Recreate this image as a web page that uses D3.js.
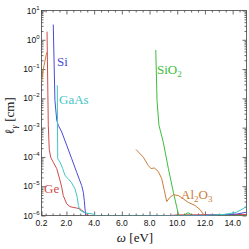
<!DOCTYPE html>
<html>
<head>
<meta charset="utf-8">
<script src="https://cdn.jsdelivr.net/npm/d3@7"></script>
<style>
  body { margin: 0; background: #fff; }
</style>
</head>
<body>
<div id="chart"></div>
<script>
// photon energy [eV] and absorption length [cm]
var geE   = [0.60, 0.69, 0.76, 0.86, 1.05, 1.30, 1.49, 1.66, 1.77, 2.02, 2.26, 2.98, 3.34, 3.70, 5.0, 9.0, 10.0, 15.0];
var geL   = [1.9, 1.2e-3, 1.8e-4, 9.8e-5, 6.6e-5, 4.0e-5, 1.9e-5, 9.3e-6, 4.8e-6, 2.5e-6, 2.0e-6, 1.7e-6, 1.23e-6, 9.3e-7, 9.0e-7, 9.5e-7, 1.05e-6, 1.08e-6];

var siE   = [1.05, 1.10, 1.17, 1.30, 1.41, 1.66, 2.02, 2.38, 2.74, 3.10, 3.22, 3.29, 3.34, 3.39, 3.5, 10.0, 13.0, 14.3, 15.0];
var siL   = [3.3, 0.26, 8.5e-3, 1.8e-3, 1.2e-3, 7.1e-4, 2.5e-4, 8.7e-5, 3.0e-5, 1.05e-5, 6.2e-6, 3.2e-6, 1.7e-6, 1.0e-6, 9.0e-7, 9.5e-7, 1.05e-6, 1.12e-6, 1.3e-6];

var gaasE = [1.34, 1.37, 1.54, 1.73, 1.90, 2.13, 2.38, 2.62, 2.78, 2.86, 2.98, 3.34, 3.94, 4.19, 6.0, 12.0, 13.5, 14.3, 15.0];
var gaasL = [2.8e-2, 8.7e-5, 6.6e-5, 4.0e-5, 2.3e-5, 1.8e-5, 1.3e-5, 8.1e-6, 4.2e-6, 2.2e-6, 1.5e-6, 1.23e-6, 1.12e-6, 9.5e-7, 9.5e-7, 1.0e-6, 1.1e-6, 1.3e-6, 2.0e-6];

var sio2E = [8.45, 8.54, 8.68, 8.99, 9.36, 9.72, 10.08, 10.16, 10.49, 10.63, 10.80, 10.92, 11.07, 15.0];
var sio2L = [0.45, 8.5e-3, 1.2e-3, 3.2e-4, 4.0e-5, 6.2e-6, 1.12e-6, 9.1e-7, 9.1e-7, 1.17e-6, 1.23e-6, 1.17e-6, 9.1e-7, 9.8e-7];

// null marks the gap between the low and high energy parts
var al2o3E = [0.2, 0.31, 0.575, null, 7.02, 7.55, 7.91, 8.11, 8.34, 8.63, 8.88, 9.07, 9.24, 9.48, 9.72, 10.08, 10.44, 10.80, 11.28, 11.64, 11.88, 12.0];
var al2o3L = [3.5e-2, 9.1e-2, 0.37, null, 1.8e-4, 9.8e-5, 5.1e-5, 4.0e-5, 4.2e-5, 3.2e-5, 1.8e-5, 7.1e-6, 3.0e-6, 4.2e-6, 5.1e-6, 4.8e-6, 3.7e-6, 2.8e-6, 2.2e-6, 1.6e-6, 1.12e-6, 9.5e-7];

var xTicks = [0.2, 2, 4, 6, 8, 10, 12, 14];
var xTickLabels = ["0.2", "2.0", "4.0", "6.0", "8.0", "10.0", "12.0", "14.0"];
var yExps = [1, 0, -1, -2, -3, -4, -5, -6];

var margin = { top: 10.5, right: 2.5, bottom: 33.5, left: 41.5 },
    width = 249 - margin.left - margin.right,
    height = 249 - margin.top - margin.bottom;

var svg = d3.select("#chart")
    .append("svg")
    .attr("width", 249)
    .attr("height", 249)
    .append("g")
    .attr("transform", "translate(" + margin.left + "," + margin.top + ")");

var x = d3.scaleLinear().domain([0.2, 15]).range([0, width]);
var y = d3.scaleLog().domain([1e-6, 10]).range([height, 0]);

var axisColor = "#444";

svg.append("clipPath").attr("id", "clip")
    .append("rect").attr("width", width).attr("height", height);

// minor ticks
var xMinor = d3.range(0.5, 15, 0.5).filter(function (v) { return v % 2 != 0; });
var yMinor = [];
for (var e = -6; e < 1; e++) {
    for (var m = 2; m <= 9; m++) yMinor.push(m * Math.pow(10, e));
}

function styleAxis(g) {
    g.select(".domain").remove();
    g.selectAll("line").attr("stroke", axisColor).attr("stroke-width", 0.8);
}

// bottom and top
svg.append("g").attr("transform", "translate(0," + height + ")")
    .call(d3.axisBottom(x).tickValues(xTicks).tickSize(-4).tickFormat(""))
    .call(styleAxis);
svg.append("g").attr("transform", "translate(0," + height + ")")
    .call(d3.axisBottom(x).tickValues(xMinor).tickSize(-2).tickFormat(""))
    .call(styleAxis);
svg.append("g")
    .call(d3.axisTop(x).tickValues(xTicks).tickSize(-4).tickFormat(""))
    .call(styleAxis);
svg.append("g")
    .call(d3.axisTop(x).tickValues(xMinor).tickSize(-2).tickFormat(""))
    .call(styleAxis);

// left and right
var yMajor = yExps.map(function (p) { return Math.pow(10, p); });
svg.append("g")
    .call(d3.axisLeft(y).tickValues(yMajor).tickSize(-4).tickFormat(""))
    .call(styleAxis);
svg.append("g")
    .call(d3.axisLeft(y).tickValues(yMinor).tickSize(-2).tickFormat(""))
    .call(styleAxis);
svg.append("g").attr("transform", "translate(" + width + ",0)")
    .call(d3.axisRight(y).tickValues(yMajor).tickSize(-4).tickFormat(""))
    .call(styleAxis);
svg.append("g").attr("transform", "translate(" + width + ",0)")
    .call(d3.axisRight(y).tickValues(yMinor).tickSize(-2).tickFormat(""))
    .call(styleAxis);

svg.append("rect")
    .attr("width", width).attr("height", height)
    .attr("fill", "none").attr("stroke", axisColor).attr("stroke-width", 0.8);

// tick labels
svg.selectAll(".xlab")
    .data(xTicks)
    .enter()
    .append("text")
    .attr("x", function (d) { return x(d); })
    .attr("y", height + 10)
    .attr("text-anchor", "middle")
    .style("font-family", "Liberation Sans, Arial, sans-serif")
    .style("font-size", "8.5px")
    .attr("fill", "#111")
    .text(function (d, i) { return xTickLabels[i]; });

var ylab = svg.selectAll(".ylab")
    .data(yExps)
    .enter()
    .append("text")
    .attr("x", -2)
    .attr("y", function (d) { return y(Math.pow(10, d)) + 3; })
    .attr("text-anchor", "end")
    .style("font-family", "Liberation Sans, Arial, sans-serif")
    .style("font-size", "8.5px")
    .attr("fill", "#111");
ylab.append("tspan").text("10");
ylab.append("tspan")
    .attr("dy", -4)
    .style("font-size", "6px")
    .text(function (d) { return d < 0 ? "\u2212" + (-d) : "" + d; });

// curves
var line = d3.line()
    .defined(function (d) { return d[0] != null && d[1] != null; })
    .x(function (d) { return x(d[0]); })
    .y(function (d) { return y(d[1]); });

var series = [
    { name: "Ge",    e: geE,    l: geL,    color: "#cf4a4a" },
    { name: "Si",    e: siE,    l: siL,    color: "#4b4bd3" },
    { name: "GaAs",  e: gaasE,  l: gaasL,  color: "#3fc6c6" },
    { name: "SiO2",  e: sio2E,  l: sio2L,  color: "#3dbd3d" },
    { name: "Al2O3", e: al2o3E, l: al2o3L, color: "#c97d3a" }
];

var curves = svg.append("g").attr("clip-path", "url(#clip)");
curves.selectAll("path")
    .data(series)
    .enter()
    .append("path")
    .attr("fill", "none")
    .attr("stroke", function (d) { return d.color; })
    .attr("stroke-width", 1)
    .attr("d", function (d) { return line(d.e.map(function (v, i) { return [v, d.l[i]]; })); });

// curve labels
var serif = "Liberation Serif, Times New Roman, serif";
function curveLabel(px, py, color, parts) {
    var t = svg.append("text")
        .attr("x", px - margin.left)
        .attr("y", py - margin.top)
        .style("font-family", serif)
        .style("font-size", "13px")
        .attr("fill", color);
    parts.forEach(function (p) {
        var s = t.append("tspan").text(p[0]);
        if (p[1] == "sub") s.style("font-size", "9px").attr("dy", 3);
        if (p[1] == "up") s.attr("dy", -3);
    });
}
curveLabel(57, 66, "#4b4bd3", [["Si"]]);
curveLabel(59, 103.5, "#3fc6c6", [["GaAs"]]);
curveLabel(44, 192.5, "#cf4a4a", [["Ge"]]);
curveLabel(157, 73.5, "#3dbd3d", [["SiO"], ["2", "sub"]]);
curveLabel(181, 199, "#c97d3a", [["Al"], ["2", "sub"], ["O", "up"], ["3", "sub"]]);

// axis titles
var xt = svg.append("text")
    .attr("x", 135 - margin.left)
    .attr("y", 242 - margin.top)
    .attr("text-anchor", "middle")
    .style("font-family", serif)
    .style("font-size", "13px")
    .attr("fill", "#111");
xt.append("tspan").style("font-style", "italic").text("\u03c9");
xt.append("tspan").text(" [eV]");

var yt = svg.append("text")
    .attr("transform", "translate(" + (14 - margin.left) + "," + (116 - margin.top) + ") rotate(-90)")
    .attr("text-anchor", "middle")
    .style("font-family", serif)
    .style("font-size", "13px")
    .attr("fill", "#111");
yt.append("tspan").text("\u2113");
yt.append("tspan").style("font-size", "9px").style("font-style", "italic").attr("dy", 3).text("\u03b3");
yt.append("tspan").attr("dy", -3).text(" [cm]");
</script>
</body>
</html>
